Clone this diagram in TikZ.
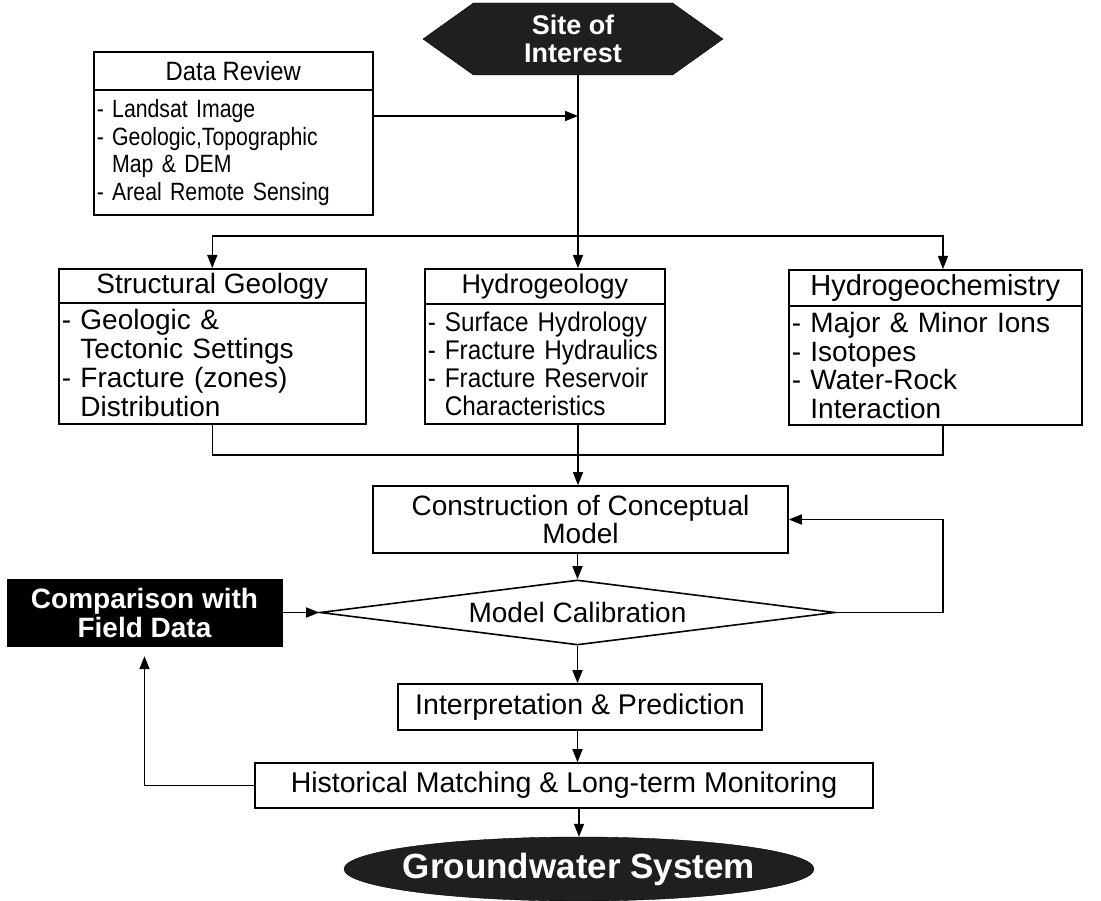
\documentclass[tikz,border=0pt]{standalone}
\usepackage{fontspec}
\setmainfont{Liberation Sans}
\newfontfamily\narrowA{Liberation Sans}[FakeStretch=0.85]
\newfontfamily\narrowB{Liberation Sans}[FakeStretch=0.9]
\usetikzlibrary{arrows.meta,shapes.geometric,shapes.symbols}
\newcommand\myfs[2]{\fontsize{#1}{#2}\selectfont}
\begin{document}
\begin{tikzpicture}[x=1pt,y=-1pt,
  box/.style={draw, line width=1.6pt, inner sep=0pt, font=\myfs{28}{28}},
  hdr/.style={box, anchor=north west},
  bod/.style={box, anchor=north west, align=left, inner xsep=3pt},
  arr/.style={-{Triangle[length=13pt,width=10pt]}, line width=1.6pt},
  ln/.style={line width=1.6pt},
  dark/.style={fill=black!88, draw=black, text=white}
]
\fill[white] (0,0) rectangle (1101,901);
\useasboundingbox (0,0) rectangle (1101,901);

% top hexagon
\node[dark, signal, signal to=west and east, signal pointer angle=71,
      minimum width=300pt, minimum height=72pt, inner sep=0pt, align=center,
      font=\bfseries\myfs{27}{28}] (site) at (573,39) {Site of\\Interest};

% data review
\node[hdr, minimum width=279pt, minimum height=38pt, font=\narrowB\myfs{26.5}{27}] (drh) at (93,51) {Data Review};
\node[bod, minimum width=279pt, minimum height=125pt, text width=273pt, font=\narrowA\myfs{25}{27.5}] (drb) at (93,89)
  {- Landsat Image\\- Geologic,Topographic\\\phantom{- }Map \& DEM\\- Areal Remote Sensing};

% three boxes
\node[hdr, minimum width=307pt, minimum height=34pt, font=\myfs{28}{28}] (sgh) at (58,268) {Structural Geology};
\node[bod, minimum width=307pt, minimum height=121pt, text width=301pt, font=\myfs{28}{29}] (sgb) at (58,302)
  {- Geologic \&\\\phantom{- }Tectonic Settings\\- Fracture (zones)\\\phantom{- }Distribution};

\node[hdr, minimum width=240pt, minimum height=35pt, font=\myfs{27}{28}] (hgh) at (424,268) {Hydrogeology};
\node[bod, minimum width=240pt, minimum height=120pt, text width=234pt, font=\narrowB\myfs{27}{28}] (hgb) at (424,303)
  {- Surface Hydrology\\- Fracture Hydraulics\\- Fracture Reservoir\\\phantom{- }Characteristics};

\node[hdr, minimum width=293pt, minimum height=36pt, font=\myfs{29}{29}] (hgch) at (788,269) {Hydrogeochemistry};
\node[bod, minimum width=293pt, minimum height=119pt, text width=287pt, font=\myfs{28}{28.5}] (hgcb) at (788,305)
  {- Major \& Minor Ions\\- Isotopes\\- Water-Rock\\\phantom{- }Interaction};

% lower chain
\node[box, minimum width=415pt, minimum height=67pt, align=center] (cons) at (580.5,519.5)
  {Construction of Conceptual\\Model};
\node[draw, line width=1.6pt, diamond, aspect=8, minimum width=515pt, minimum height=65pt,
      inner sep=0pt, font=\myfs{28}{28}] (cal) at (577.5,612.5) {Model Calibration};
\node[fill=black, draw=black, text=white, minimum width=275pt, minimum height=67pt,
      inner sep=0pt, align=center, font=\bfseries\myfs{28}{29}] (comp) at (144.5,612.5)
  {Comparison with\\Field Data};
\node[box, minimum width=364pt, minimum height=46pt, font=\myfs{28.5}{28}] (interp) at (580,707)
  {Interpretation \& Prediction};
\node[box, minimum width=618pt, minimum height=45pt, font=\myfs{28.5}{28}] (hist) at (564,785.5)
  {Historical Matching \& Long-term Monitoring};
\node[dark, ellipse, minimum width=470pt, minimum height=64pt, inner xsep=-10pt, inner ysep=0pt,
      font=\bfseries\myfs{35}{38}] (gw) at (579,869) {Groundwater System};

% connectors
\coordinate (join) at (578,116);
\coordinate (split) at (578,236);
\coordinate (rsplit) at (943,236);
\coordinate (merge) at (578,455);
\coordinate (rmerge) at (943,455);
\coordinate (rloop) at (943,612.5);

\draw[ln] (site.south -| split) -- (split);
\draw[arr] (drb.east |- join) -- (join);
\draw[arr] (split) -| (sgh.north);
\draw[arr] (split) -- (split |- hgh.north);
\draw[arr] (split) -- (rsplit) -- (rsplit |- hgch.north);

\draw[ln] (sgb.south) -- (sgb.south |- merge) -- (rmerge) -- (rmerge |- hgcb.south);
\draw[arr] (hgb.south -| merge) -- (cons.north -| merge);

\draw[arr] (cons.south -| cal) -- (cal.north);
\draw[arr] (cal.east) -- (rloop) |- (cons.east);
\draw[arr] (comp.east) -- (cal.west);
\draw[arr] (cal.south) -- (cal.south |- interp.north);
\draw[arr] (interp.south -| cal) -- (hist.north -| cal);
\draw[arr] (hist.south -| gw) -- (gw.north);
\draw[arr, shorten >=10pt] (hist.west) -| (comp.south);
\end{tikzpicture}
\end{document}
